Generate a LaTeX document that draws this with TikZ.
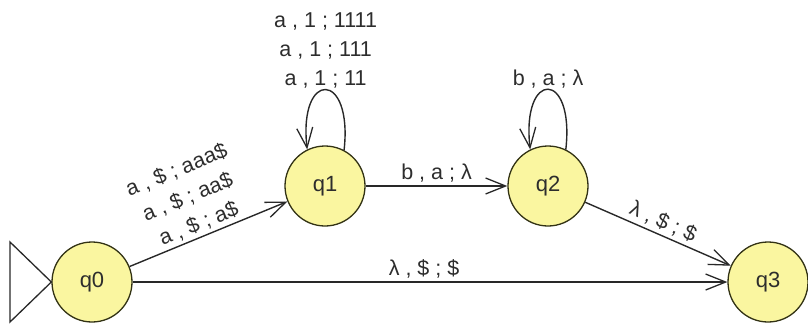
\documentclass[tikz,border=0pt]{standalone}
\usepackage{fontspec}
\setmainfont{Liberation Sans}
\usetikzlibrary{arrows.meta}
\definecolor{statefill}{RGB}{250,246,160}
\definecolor{stateline}{RGB}{50,50,20}
\definecolor{edgecol}{RGB}{40,40,40}
\definecolor{txt}{RGB}{45,45,45}
\tikzset{
  state/.style={circle, draw=stateline, fill=statefill, line width=1.3pt,
    minimum size=80pt, inner sep=0pt, font=\fontsize{22}{26}\selectfont, text=txt},
  edge/.style={draw=edgecol, line width=1.4pt,
    -{Straight Barb[length=20pt,width=16pt,line width=1.3pt]}},
  lbl/.style={font=\fontsize{21.5}{29}\selectfont, text=txt, align=center, inner sep=3pt},
  startmark/.style={draw=edgecol, line width=1.3pt}
}
\begin{document}
\begin{tikzpicture}[x=1pt,y=-1pt]
\useasboundingbox (0,0) rectangle (808,327);
\node[state] (q0) at (92,282) {q0};
\node[state] (q1) at (325,186) {q1};
\node[state] (q2) at (548,186) {q2};
\node[state] (q3) at (768,282) {q3};
\coordinate (s1) at (10,242);
\coordinate (s2) at (10,322);
\draw[startmark] (s1) -- (q0.west) -- (s2) -- cycle;
\draw[edge] (q0) -- node[lbl, sloped, above, pos=0.47] {a , \$ ; aaa\$\\a , \$ ; aa\$\\a , \$ ; a\$} (q1);
\draw[edge] (q1) -- node[lbl, above] {b , a ; λ} (q2);
\draw[edge] (q2) -- node[lbl, sloped, above] {λ , \$ ; \$} (q3);
\draw[edge] (q0) -- node[lbl, above, pos=0.49] {λ , \$ ; \$} (q3);
\draw[edge] (q1.62) .. controls +(9,-80) and +(-9,-80) .. node[lbl, above, inner sep=1pt] {a , 1 ; 1111\\a , 1 ; 111\\a , 1 ; 11} (q1.116);
\draw[edge] (q2.64) .. controls +(9,-80) and +(-9,-80) .. node[lbl, above, inner sep=1pt] {b , a ; λ} (q2.116);
\end{tikzpicture}
\end{document}
